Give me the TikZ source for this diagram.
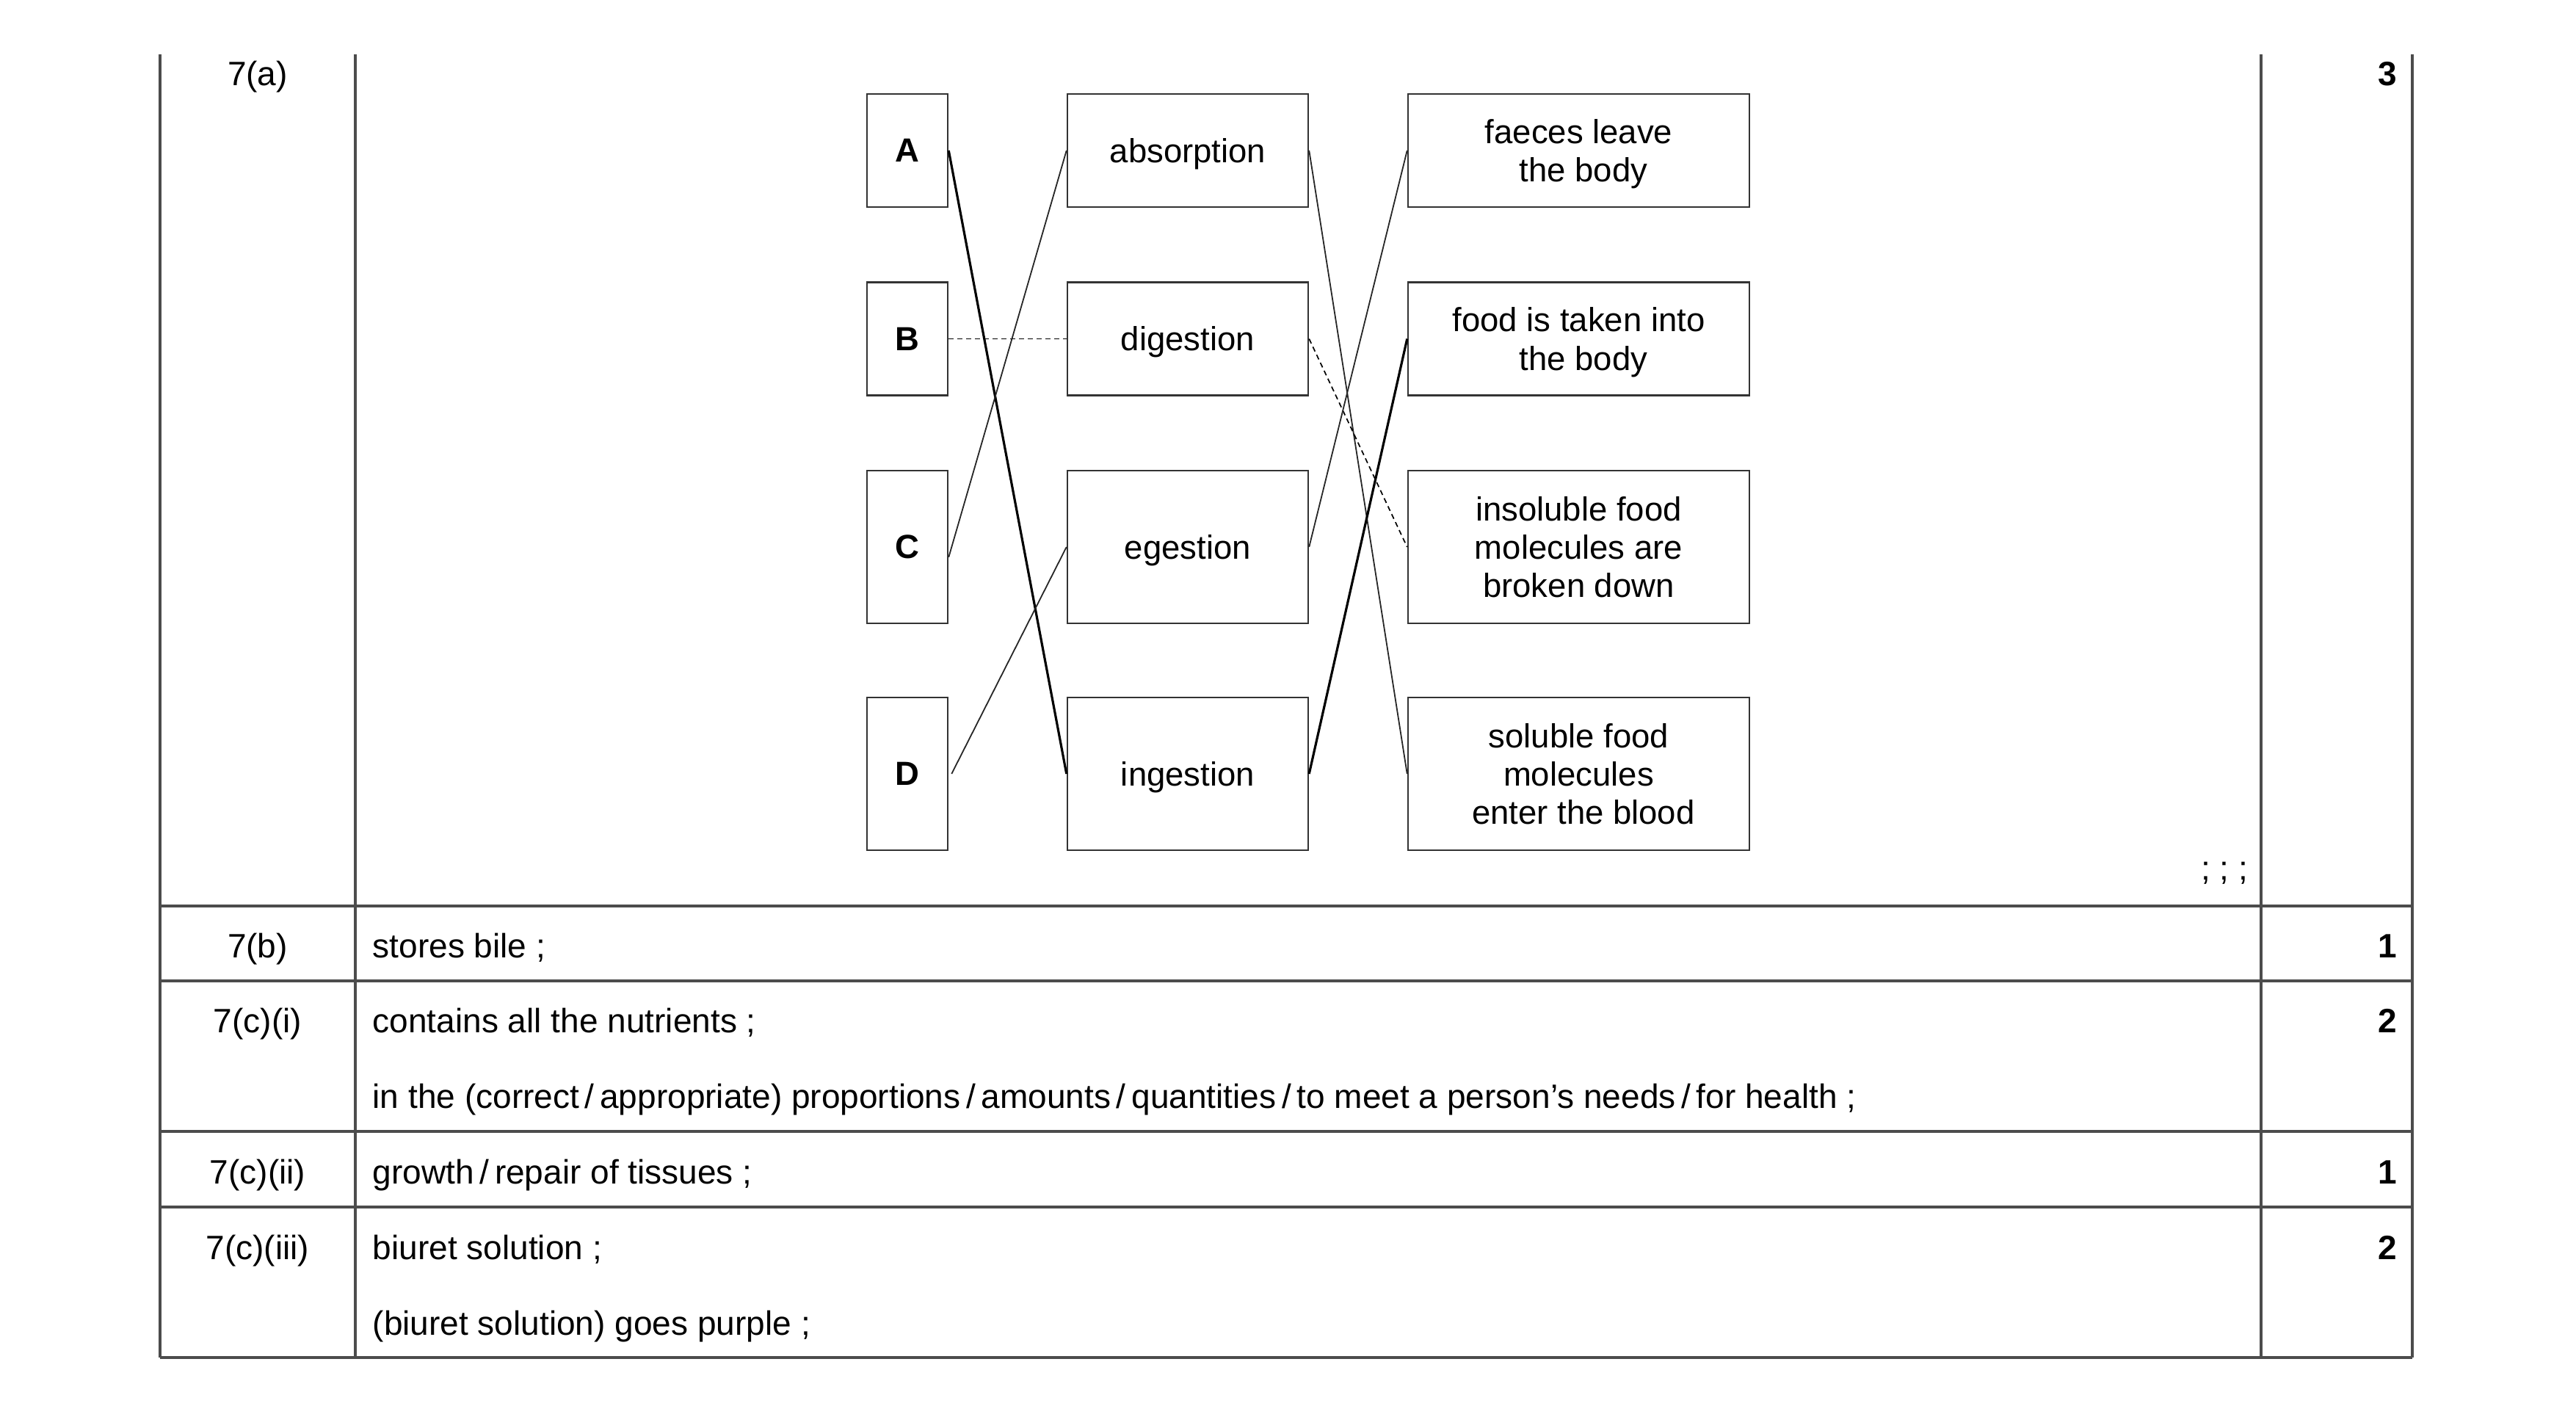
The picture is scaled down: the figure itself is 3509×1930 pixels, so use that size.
\documentclass[tikz,border=0pt]{standalone}
\usepackage{fontspec}
\setmainfont{Liberation Sans}
\begin{document}
\begin{tikzpicture}[x=0.1mm,y=-0.1mm,
  every node/.style={font=\fontsize{13.1}{15}\selectfont,inner sep=0pt},
  tline/.style={draw=black!70,line width=0.33mm},
  box/.style={draw=black!80,line width=0.25mm,inner sep=0pt,align=center,text depth=0pt,
    font=\fontsize{12.95}{14.9}\selectfont},
  lbox/.style={box,minimum width=11mm,font=\fontsize{12.95}{14.9}\selectfont\bfseries},
  mbox/.style={box,minimum width=32.8mm},
  rbox/.style={box,minimum width=46.5mm},
  hA/.style={minimum height=15.4mm},
  hB/.style={minimum height=20.8mm},
  thinc/.style={draw=black!85,line width=0.18mm},
  thickc/.style={draw=black,line width=0.32mm},
  dsh/.style={draw=black,line width=0.17mm,dash pattern=on 0.7mm off 0.5mm},
  qlab/.style={anchor=base},
  ans/.style={anchor=base west},
  marknum/.style={anchor=base east,font=\fontsize{13.1}{15}\selectfont\bfseries}]
\useasboundingbox (0,0) rectangle (3509,1930);
% table
\draw[tline] (218,74) -- (218,1849) (484,74) -- (484,1849)
  (3080,74) -- (3080,1849) (3286,74) -- (3286,1849);
\draw[tline] (218,1234) -- (3286,1234) (218,1336) -- (3286,1336)
  (218,1541) -- (3286,1541) (218,1644) -- (3286,1644) (218,1849) -- (3286,1849);
% boxes
\node[lbox,hA] (A) at (1236,205) {A};
\node[lbox,hA] (B) at (1236,461.5) {B};
\node[lbox,hB] (C) at (1236,745) {C};
\node[lbox,hB] (D) at (1236,1054) {D};
\node[mbox,hA] (abs) at (1618,205) {absorption};
\node[mbox,hA] (dig) at (1618,461.5) {digestion};
\node[mbox,hB] (ege) at (1618,745) {egestion};
\node[mbox,hB] (ing) at (1618,1054) {ingestion};
\node[rbox,hA] (fae) at (2150.5,205) {faeces leave\\\hspace*{0.278em}the body};
\node[rbox,hA] (foo) at (2150.5,461.5) {food is taken into\\\hspace*{0.278em}the body};
\node[rbox,hB] (ins) at (2150.5,745) {insoluble food\\molecules are\\broken down};
\node[rbox,hB] (sol) at (2150.5,1054) {soluble food\\molecules\\\hspace*{0.278em}enter the blood};
% connectors
\draw[thickc] (A.east) -- (ing.west);
\draw[dsh] (B.east) -- (dig.west);
\draw[thinc] ([yshift=-1.4mm]C.east) -- (abs.west);
\draw[thinc] ([xshift=0.4mm]D.east) -- (ege.west);
\draw[thinc] (abs.east) -- (sol.west);
\draw[dsh] (dig.east) -- (ins.west);
\draw[thinc] (ege.east) -- (fae.west);
\draw[thickc] (ing.east) -- (foo.west);
\node[anchor=base east] (semi) at (3063,1198) {; ; ;};
% labels
\node[qlab] (q1) at (351,117) {7(a)};
\node[marknum] (m1) at (3266,117) {3};
\node[qlab] (q2) at (351,1304) {7(b)};
\node[ans] (a2) at (507,1304) {stores bile ;};
\node[marknum] (m2) at (3266,1304) {1};
\node[qlab] (q3) at (351,1406) {7(c)(i)};
\node[ans] (a3) at (507,1406) {contains all the nutrients ;};
\node[ans] (a3b) at (507,1509) {in the (correct\,/\,appropriate) proportions\,/\,amounts\,/\,quantities\,/\,to meet a person’s needs\,/\,for health ;};
\node[marknum] (m3) at (3266,1406) {2};
\node[qlab] (q4) at (351,1612) {7(c)(ii)};
\node[ans] (a4) at (507,1612) {growth\,/\,repair of tissues ;};
\node[marknum] (m4) at (3266,1612) {1};
\node[qlab] (q5) at (351,1715) {7(c)(iii)};
\node[ans] (a5) at (507,1715) {biuret solution ;};
\node[ans] (a5b) at (507,1818) {(biuret solution) goes purple ;};
\node[marknum] (m5) at (3266,1715) {2};
\end{tikzpicture}
\end{document}
